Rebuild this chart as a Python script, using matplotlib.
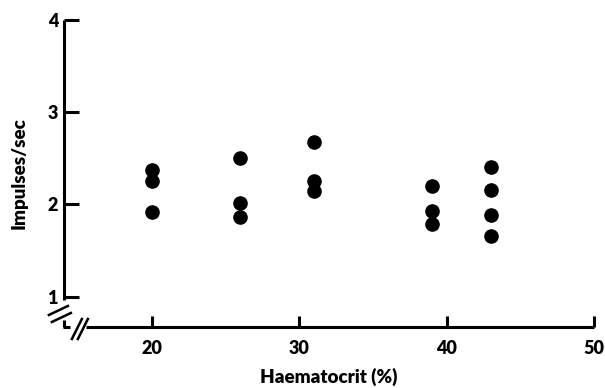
import matplotlib.pyplot as plt

plt.rcParams['font.family'] = ['Lato', 'DejaVu Sans']
plt.rcParams['font.weight'] = 'heavy'

# --- Measurements: impulse rate at each haematocrit level ---
haematocrit = [20, 20, 20,
               26, 26, 26,
               31, 31, 31,
               39, 39, 39,
               43, 43, 43, 43]
impulses = [2.37, 2.25, 1.92,
            2.50, 2.02, 1.86,
            2.68, 2.25, 2.14,
            2.20, 1.93, 1.79,
            2.41, 2.16, 1.89, 1.66]

x_ticks = [20, 30, 40, 50]
y_ticks = [1, 2, 3, 4]

XMIN, XMAX = 14, 50
YMIN, YMAX = 0.67, 4

LW = 2.2

fig = plt.figure(figsize=(6.05, 3.88), dpi=100)
ax = fig.add_axes([63.5 / 605, 1 - 327 / 388, (594 - 63.5) / 605, (327 - 20) / 388])

ax.plot(haematocrit, impulses, 'o', color='black', markersize=9.5, clip_on=False)

ax.set_xlim(XMIN, XMAX)
ax.set_ylim(YMIN, YMAX)

# hand-drawn axes so the broken corner can be shown
for s in ax.spines.values():
    s.set_visible(False)

axis_kw = dict(color='black', lw=LW, clip_on=False, solid_capstyle='butt')
ax.plot([XMIN, XMIN], [0.965, YMAX], **axis_kw)
ax.plot([XMIN, XMIN], [YMIN, 0.745], **axis_kw)
ax.plot([XMIN - 0.02, 14.45], [YMIN, YMIN], **axis_kw)
ax.plot([15.55, XMAX], [YMIN, YMIN], **axis_kw)

# break marks on both axes (drawn in pixel offsets from the corner)
def px(xp, yp):
    return 20 + (xp - 152) / 14.73, 4 - (yp - 20) / 92.2

for (x0, y0), (x1, y1) in [((49, 315), (68, 306)), ((52, 322), (71, 313)),
                           ((72, 339), (82, 319)), ((78, 339), (88, 319))]:
    a, b = px(x0, y0)
    c, d = px(x1, y1)
    ax.plot([a, c], [b, d], color='black', lw=1.8, clip_on=False)

ax.set_xticks(x_ticks)
ax.set_yticks(y_ticks)
ax.tick_params(axis='x', direction='in', length=8, width=LW, pad=9, labelsize=13)
ax.tick_params(axis='y', direction='in', length=11, width=LW, pad=4, labelsize=13)

ax.set_xlabel('Haematocrit (%)', fontsize=13.5, fontweight='heavy', labelpad=8)
ax.set_ylabel('Impulses/sec', fontsize=13.5, fontweight='heavy', labelpad=14)

fig.savefig('out.png', dpi=100)
